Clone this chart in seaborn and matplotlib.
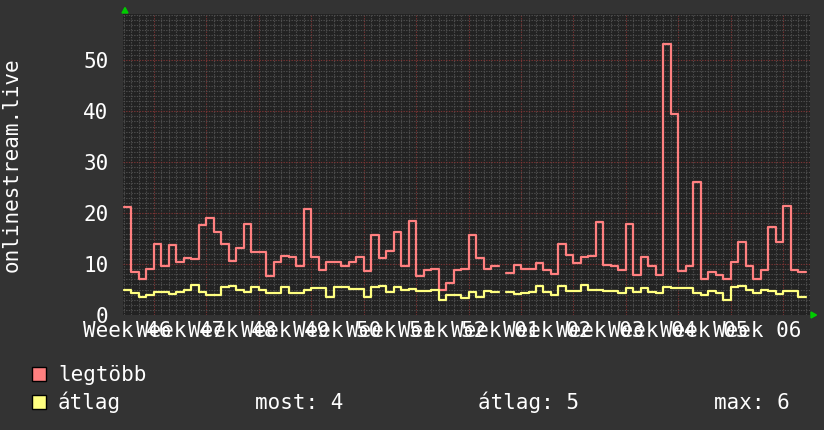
import numpy as np
import pandas as pd
import matplotlib
matplotlib.use("Agg")
import matplotlib.pyplot as plt
from matplotlib.patches import Rectangle, Polygon
import seaborn as sns

# ---------------- data ----------------
week_numbers = ["46", "47", "48", "49", "50", "51", "52", "01", "02", "03", "04", "05", "06"]
week_labels = ["Week " + w for w in week_numbers]

legtobb = [21.2, 8.5, 7.0, 9.0, 14.0, 9.6, 13.7, 10.5, 11.2, 10.9,
           17.7, 19.0, 16.3, 13.9, 10.6, 13.2, 17.8, 12.4, 12.3, 7.7,
           10.5, 11.5, 11.4, 9.7, 20.9, 11.4, 8.9, 10.5, 10.5, 9.7,
           10.5, 11.4, 8.6, 15.8, 11.1, 12.6, 16.2, 9.7, 18.4, 7.7,
           8.9, 9.0, 4.9, 6.3, 8.8, 9.0, 15.8, 11.1, 9.0, 9.7,
           np.nan, 8.3, 9.9, 9.0, 9.0, 10.3, 8.9, 8.1, 13.9, 11.7,
           10.3, 11.4, 11.5, 18.2, 9.9, 9.6, 8.9, 17.9, 7.9, 11.3,
           9.6, 7.9, 53.3, 39.5, 8.6, 9.6, 26.2, 7.0, 8.4, 7.9,
           7.0, 10.5, 14.4, 9.6, 7.0, 8.9, 17.2, 14.4, 21.4, 8.9,
           8.4]

atlag = [5.0, 4.4, 3.5, 4.0, 4.6, 4.5, 4.1, 4.6, 5.0, 5.8,
         4.5, 4.0, 4.0, 5.4, 5.6, 5.0, 4.6, 5.5, 5.0, 4.3,
         4.4, 5.4, 4.3, 4.4, 4.9, 5.3, 5.3, 3.5, 5.4, 5.4,
         5.1, 5.2, 3.6, 5.4, 5.6, 4.5, 5.4, 5.0, 5.2, 4.8,
         4.8, 5.0, 2.9, 4.0, 3.9, 3.3, 4.5, 3.6, 4.7, 4.5,
         np.nan, 4.6, 4.2, 4.4, 4.6, 5.6, 4.6, 3.9, 5.6, 4.8,
         4.8, 5.8, 4.9, 5.0, 4.8, 4.8, 4.4, 5.3, 4.6, 5.3,
         4.5, 4.4, 5.4, 5.3, 5.3, 5.3, 4.4, 4.0, 4.7, 4.4,
         3.0, 5.4, 5.6, 4.9, 4.4, 5.0, 4.8, 4.2, 4.7, 4.8,
         3.5]

series_names = ["legtöbb", "átlag"]
stats_labels = ["most: 4", "átlag: 5", "max: 6"]
y_ticks = [0, 10, 20, 30, 40, 50]

# ---------------- style ----------------
BG = "#333333"
CANVAS = "#222222"
RED = "#ff8080"
YEL = "#ffff80"
MINOR = "#4e4e4e"
MAJOR = "#7a3434"
TXT = "#ffffff"
FONT = ["DejaVu Sans Mono", "DejaVu Sans"]

sns.set_theme(style="dark")
plt.rcParams["font.family"] = FONT

W, H = 824, 430
fig = plt.figure(figsize=(W / 100, H / 100), dpi=100, facecolor=BG)
L, R, T, B = 123, 810, 14, 315
ax = fig.add_axes([L / W, 1 - B / H, (R - L) / W, (B - T) / H])
ax.set_facecolor(CANVAS)

offset = 0.108          # sample boundaries relative to day grid
x_max = 91.67
y_max = 59.1


def to_frame(values):
    rows = []
    seg = 0
    run = []
    for i, v in enumerate(values):
        if np.isnan(v):
            if run:
                rows += run + [(run[-1][0] + 1, run[-1][1], seg)]
                run = []
                seg += 1
            continue
        run.append((i + offset, v, seg))
    if run:
        rows += run + [(run[-1][0] + 1, run[-1][1], seg)]
    return pd.DataFrame(rows, columns=["day", "value", "seg"])


# grid
n_days = len(legtobb)
for k in range(0, 93):
    xv = k + offset
    if xv > x_max:
        break
    is_major = (k - 4) % 7 == 0
    ax.axvline(xv, color=MAJOR if is_major else MINOR, lw=0.8,
               ls=(0, (1.2, 1.2)), zorder=1)
for yv in range(1, 60):
    is_major = yv % 10 == 0
    ax.axhline(yv, color=MAJOR if is_major else MINOR, lw=0.8,
               ls=(0, (1.2, 1.2)), zorder=1)

sns.lineplot(data=to_frame(legtobb), x="day", y="value", units="seg",
             estimator=None, drawstyle="steps-post", color=RED, lw=1.6,
             ax=ax, zorder=3)
sns.lineplot(data=to_frame(atlag), x="day", y="value", units="seg",
             estimator=None, drawstyle="steps-post", color=YEL, lw=1.6,
             ax=ax, zorder=3)

ax.set_xlim(0, x_max)
ax.set_ylim(0, y_max)
ax.set_xticks([0.5 + offset + 7 * k for k in range(len(week_labels))])
ax.set_xticklabels(week_labels)
ax.set_yticks(y_ticks)
ax.set_yticklabels([str(v) for v in y_ticks])
ax.tick_params(axis="x", length=0, pad=4, labelsize=15, labelcolor=TXT)
ax.tick_params(axis="y", length=0, pad=10.5, labelsize=15, labelcolor=TXT)
ax.grid(False)
ax.set_xlabel("")
ax.set_ylabel("")
for s in ax.spines.values():
    s.set_visible(False)

# y-axis title
fig.text(12 / W, 1 - 164.5 / H, "onlinestream.live", rotation=90,
         ha="center", va="center", fontsize=15, color=TXT)

# axis arrows
GREEN = "#00cc00"
fig.patches.append(Polygon([[122 / W, 1 - 13 / H], [128 / W, 1 - 13 / H],
                            [125 / W, 1 - 7.5 / H]], closed=True,
                           transform=fig.transFigure, color=GREEN))
fig.patches.append(Polygon([[811 / W, 1 - 312 / H], [811 / W, 1 - 318 / H],
                            [816.5 / W, 1 - 315 / H]], closed=True,
                           transform=fig.transFigure, color=GREEN))

# legend
colors = [RED, YEL]
baselines = [381, 409]
for name, col, base in zip(series_names, colors, baselines):
    fig.patches.append(Rectangle((32 / W, 1 - base / H), 14 / W, 14 / H,
                                 transform=fig.transFigure, facecolor=col,
                                 edgecolor="#000000", lw=1))
    fig.text(58 / W, 1 - base / H, name, ha="left", va="baseline",
             fontsize=15, color=TXT)
for lab, xs in zip(stats_labels, [255, 478, 714]):
    fig.text(xs / W, 1 - baselines[1] / H, lab, ha="left", va="baseline",
             fontsize=15, color=TXT)

fig.savefig("out.png", dpi=100, facecolor=BG)
